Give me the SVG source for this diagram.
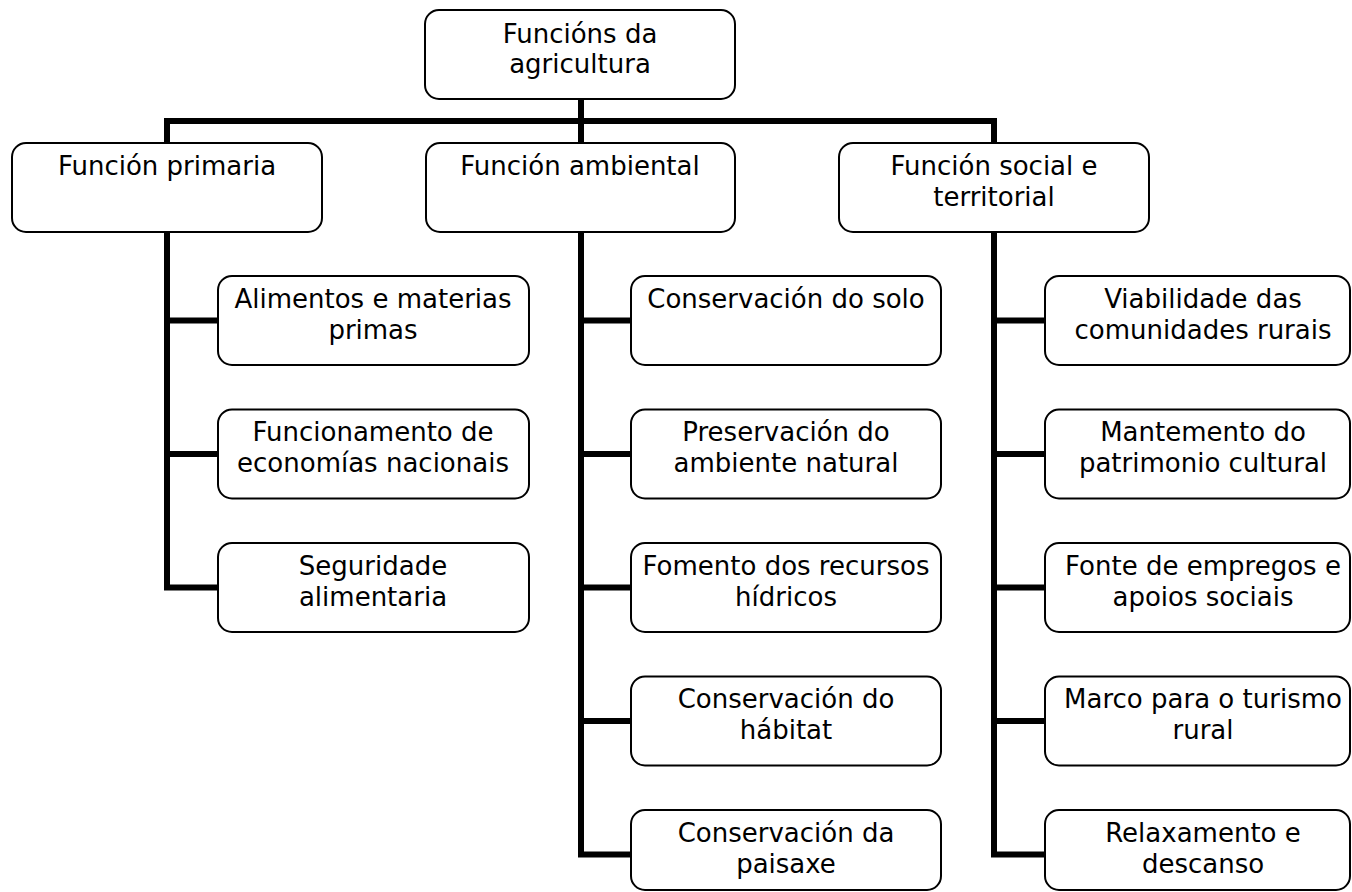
<svg xmlns="http://www.w3.org/2000/svg" width="1352" height="892" viewBox="0 0 1352 892">
<style>
.box{fill:#fff;stroke:#000;stroke-width:2}
.c{fill:none;stroke:#000;stroke-width:6;stroke-linecap:square;stroke-linejoin:miter}
text{font-family:"DejaVu Sans","Liberation Sans",sans-serif;font-size:26px;fill:#000;text-anchor:middle}
</style>
<rect width="1352" height="892" fill="#fff"/>
<g id="connectors">
<path class="c" d="M581 99V121M167 143V121H994V143M581 121V143"/>
<path class="c" d="M167 232V587.5H218M167 320.5H218M167 454H218"/>
<path class="c" d="M581 232V854.5H631M581 320.5H631M581 454H631M581 587.5H631M581 721H631"/>
<path class="c" d="M994 232V854.5H1045M994 320.5H1045M994 454H1045M994 587.5H1045M994 721H1045"/>
</g>
<g id="root"><rect class="box" x="425" y="10" width="310" height="89" rx="14"/><text x="580" y="43">Funcións da</text><text x="580" y="73">agricultura</text></g>
<g id="primaria"><rect class="box" x="12" y="143" width="310" height="89" rx="14"/><text x="167" y="175">Función primaria</text></g>
<g id="ambiental"><rect class="box" x="426" y="143" width="309" height="89" rx="14"/><text x="580" y="175">Función ambiental</text></g>
<g id="social"><rect class="box" x="839" y="143" width="310" height="89" rx="14"/><text x="994" y="175">Función social e</text><text x="994" y="206">territorial</text></g>
<g id="alimentos"><rect class="box" x="218" y="276" width="311" height="89" rx="14"/><text x="373" y="308">Alimentos e materias</text><text x="373" y="339">primas</text></g>
<g id="funcionamento"><rect class="box" x="218" y="409.5" width="311" height="89" rx="14"/><text x="373" y="441">Funcionamento de</text><text x="373" y="472">economías nacionais</text></g>
<g id="seguridade"><rect class="box" x="218" y="543" width="311" height="89" rx="14"/><text x="373" y="575">Seguridade</text><text x="373" y="606">alimentaria</text></g>
<g id="solo"><rect class="box" x="631" y="276" width="310" height="89" rx="14"/><text x="786" y="308">Conservación do solo</text></g>
<g id="preservacion"><rect class="box" x="631" y="409.5" width="310" height="89" rx="14"/><text x="786" y="441">Preservación do</text><text x="786" y="472">ambiente natural</text></g>
<g id="fomento"><rect class="box" x="631" y="543" width="310" height="89" rx="14"/><text x="786" y="575">Fomento dos recursos</text><text x="786" y="606">hídricos</text></g>
<g id="habitat"><rect class="box" x="631" y="676.5" width="310" height="89" rx="14"/><text x="786" y="708">Conservación do</text><text x="786" y="739">hábitat</text></g>
<g id="paisaxe"><rect class="box" x="631" y="810" width="310" height="80" rx="14"/><text x="786" y="842">Conservación da</text><text x="786" y="873">paisaxe</text></g>
<g id="viabilidade"><rect class="box" x="1045" y="276" width="305" height="89" rx="14"/><text x="1203" y="308">Viabilidade das</text><text x="1203" y="339">comunidades rurais</text></g>
<g id="mantemento"><rect class="box" x="1045" y="409.5" width="305" height="89" rx="14"/><text x="1203" y="441">Mantemento do</text><text x="1203" y="472">patrimonio cultural</text></g>
<g id="fonte"><rect class="box" x="1045" y="543" width="305" height="89" rx="14"/><text x="1203" y="575">Fonte de empregos e</text><text x="1203" y="606">apoios sociais</text></g>
<g id="marco"><rect class="box" x="1045" y="676.5" width="305" height="89" rx="14"/><text x="1203" y="708">Marco para o turismo</text><text x="1203" y="739">rural</text></g>
<g id="relaxamento"><rect class="box" x="1045" y="810" width="305" height="80" rx="14"/><text x="1203" y="842">Relaxamento e</text><text x="1203" y="873">descanso</text></g>
</svg>
